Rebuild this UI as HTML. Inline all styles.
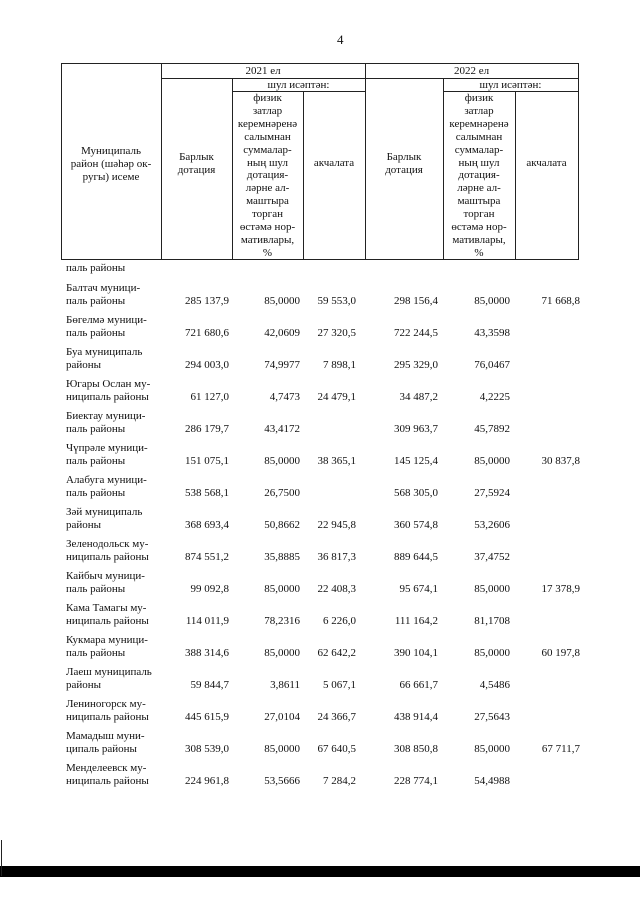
<!DOCTYPE html>
<html><head><meta charset="utf-8"><style>
body{margin:0;background:#fff;width:640px;height:905px;position:relative;overflow:hidden;font-family:"Liberation Serif",serif;color:#111;font-size:11px}
.a{position:absolute;white-space:nowrap}
.l{position:absolute;background:#222}
.c{position:absolute;text-align:center;line-height:12.9px;font-size:11px}
.n{position:absolute;text-align:right;white-space:nowrap;font-size:11px}
</style></head><body>
<div class="a" style="left:337px;top:32px;font-size:13px">4</div>
<div class="l" style="left:61px;top:63px;width:518px;height:1px"></div>
<div class="l" style="left:161px;top:78px;width:418px;height:1px"></div>
<div class="l" style="left:232px;top:91px;width:133px;height:1px"></div>
<div class="l" style="left:515px;top:91px;width:64px;height:1px"></div>
<div class="l" style="left:443px;top:91px;width:72px;height:1px"></div>
<div class="l" style="left:61px;top:259px;width:518px;height:1px"></div>
<div class="l" style="left:61px;top:63px;width:1px;height:197px"></div>
<div class="l" style="left:161px;top:63px;width:1px;height:197px"></div>
<div class="l" style="left:232px;top:78px;width:1px;height:182px"></div>
<div class="l" style="left:303px;top:91px;width:1px;height:169px"></div>
<div class="l" style="left:365px;top:63px;width:1px;height:197px"></div>
<div class="l" style="left:443px;top:78px;width:1px;height:182px"></div>
<div class="l" style="left:515px;top:91px;width:1px;height:169px"></div>
<div class="l" style="left:578px;top:63px;width:1px;height:197px"></div>
<div class="c" style="left:161px;top:65px;width:204px">2021 ел</div>
<div class="c" style="left:365px;top:65px;width:213px">2022 ел</div>
<div class="c" style="left:232px;top:79px;width:133px">шул исәптән:</div>
<div class="c" style="left:443px;top:79px;width:135px">шул исәптән:</div>
<div class="c" style="left:61px;top:145px;width:100px">Муниципаль<br>район (шәһәр ок-<br>ругы) исеме</div>
<div class="c" style="left:161px;top:151px;width:71px">Барлык<br>дотация</div>
<div class="c" style="left:365px;top:151px;width:78px">Барлык<br>дотация</div>
<div class="c" style="left:303px;top:157px;width:62px">акчалата</div>
<div class="c" style="left:515px;top:157px;width:63px">акчалата</div>
<div class="c" style="left:232px;top:92px;width:71px">физик<br>затлар<br>керемнәренә<br>салымнан<br>суммалар-<br>ның шул<br>дотация-<br>ләрне ал-<br>маштыра<br>торган<br>өстәмә нор-<br>мативлары,<br>%</div>
<div class="c" style="left:443px;top:92px;width:72px">физик<br>затлар<br>керемнәренә<br>салымнан<br>суммалар-<br>ның шул<br>дотация-<br>ләрне ал-<br>маштыра<br>торган<br>өстәмә нор-<br>мативлары,<br>%</div>
<div class="a" style="left:66px;top:262px">паль районы</div>
<div id="rows"></div>
<div class="l" style="left:0;top:866px;width:640px;height:11px;background:#000"></div>
<div class="l" style="left:1px;top:840px;width:1px;height:36px"></div>
<script>
var R=[["Балтач муници-","паль районы","285 137,9","85,0000","59 553,0","298 156,4","85,0000","71 668,8"],
["Бөгелмә муници-","паль районы","721 680,6","42,0609","27 320,5","722 244,5","43,3598",""],
["Буа муниципаль","районы","294 003,0","74,9977","7 898,1","295 329,0","76,0467",""],
["Югары Ослан му-","ниципаль районы","61 127,0","4,7473","24 479,1","34 487,2","4,2225",""],
["Биектау муници-","паль районы","286 179,7","43,4172","","309 963,7","45,7892",""],
["Чүпрәле муници-","паль районы","151 075,1","85,0000","38 365,1","145 125,4","85,0000","30 837,8"],
["Алабуга муници-","паль районы","538 568,1","26,7500","","568 305,0","27,5924",""],
["Зәй муниципаль","районы","368 693,4","50,8662","22 945,8","360 574,8","53,2606",""],
["Зеленодольск му-","ниципаль районы","874 551,2","35,8885","36 817,3","889 644,5","37,4752",""],
["Кайбыч муници-","паль районы","99 092,8","85,0000","22 408,3","95 674,1","85,0000","17 378,9"],
["Кама Тамагы му-","ниципаль районы","114 011,9","78,2316","6 226,0","111 164,2","81,1708",""],
["Кукмара муници-","паль районы","388 314,6","85,0000","62 642,2","390 104,1","85,0000","60 197,8"],
["Лаеш муниципаль","районы","59 844,7","3,8611","5 067,1","66 661,7","4,5486",""],
["Лениногорск му-","ниципаль районы","445 615,9","27,0104","24 366,7","438 914,4","27,5643",""],
["Мамадыш муни-","ципаль районы","308 539,0","85,0000","67 640,5","308 850,8","85,0000","67 711,7"],
["Менделеевск му-","ниципаль районы","224 961,8","53,5666","7 284,2","228 774,1","54,4988",""]];
var xs=[229,300,356,438,510,580],h="";
R.forEach(function(r,i){var y=282+i*32;
h+='<div class="a" style="left:66px;top:'+y+'px">'+r[0]+'</div><div class="a" style="left:66px;top:'+(y+13)+'px">'+r[1]+'</div>';
for(var j=0;j<6;j++)if(r[j+2])h+='<div class="n" style="right:'+(640-xs[j])+'px;top:'+(y+13)+'px">'+r[j+2]+'</div>';});
document.getElementById('rows').innerHTML=h;
</script>
</body></html>
